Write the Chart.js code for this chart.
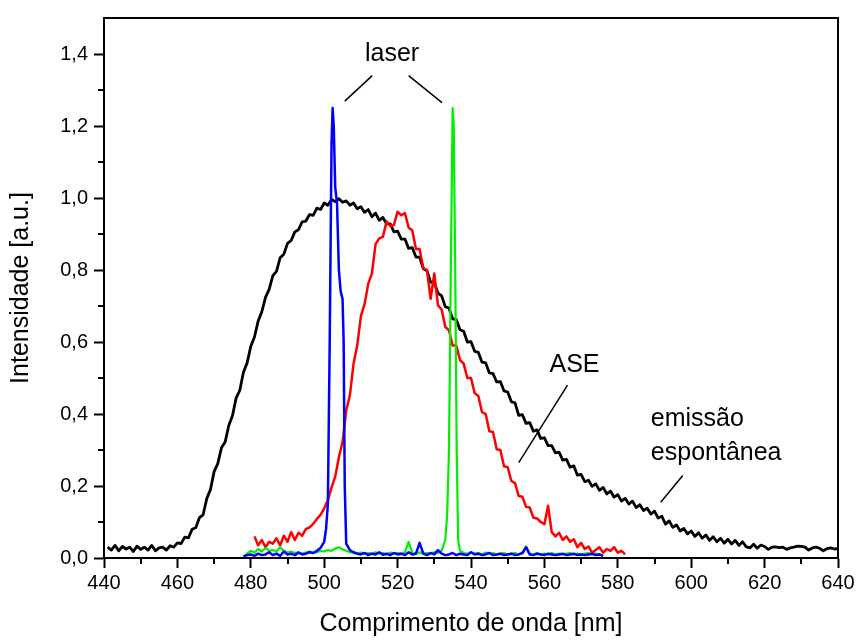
<!DOCTYPE html>
<html>
<head>
<meta charset="utf-8">
<script src="https://cdn.jsdelivr.net/npm/chart.js@4"></script>
<style>
  html, body { margin: 0; padding: 0; background: #fff; }
  #wrap { width: 859px; height: 641px; }
</style>
</head>
<body>
<div id="wrap"><canvas id="chart" width="859" height="641"></canvas></div>
<script>
// Eixos
const xTicks = [440, 460, 480, 500, 520, 540, 560, 580, 600, 620, 640];
const yTicks = [0, 0.2, 0.4, 0.6, 0.8, 1.0, 1.2, 1.4];
const yTickLabels = ['0,0', '0,2', '0,4', '0,6', '0,8', '1,0', '1,2', '1,4'];

// Emissão espontânea (preto), 441..640 nm, passo 1 nm
const spontStart = 441;
const spontValues = [
  0.030, 0.022, 0.035, 0.020, 0.032, 0.025, 0.030, 0.018, 0.033, 0.024,
  0.030, 0.022, 0.035, 0.020, 0.028, 0.030, 0.022, 0.034, 0.030, 0.042,
  0.040, 0.058, 0.056, 0.080, 0.084, 0.112, 0.120, 0.165, 0.190, 0.240,
  0.262, 0.306, 0.322, 0.368, 0.395, 0.444, 0.466, 0.516, 0.542, 0.588,
  0.614, 0.658, 0.684, 0.724, 0.746, 0.784, 0.796, 0.834, 0.844, 0.874,
  0.882, 0.906, 0.912, 0.934, 0.936, 0.954, 0.952, 0.972, 0.968, 0.986,
  0.980, 0.996, 0.990, 0.998, 0.988, 0.992, 0.980, 0.986, 0.970, 0.976,
  0.960, 0.968, 0.948, 0.958, 0.938, 0.946, 0.928, 0.928, 0.906, 0.908,
  0.886, 0.886, 0.860, 0.862, 0.836, 0.836, 0.804, 0.798, 0.766, 0.764,
  0.736, 0.728, 0.698, 0.694, 0.664, 0.662, 0.634, 0.630, 0.600, 0.601,
  0.574, 0.571, 0.544, 0.542, 0.514, 0.512, 0.489, 0.490, 0.464, 0.461,
  0.434, 0.431, 0.396, 0.398, 0.374, 0.376, 0.352, 0.356, 0.332, 0.334,
  0.312, 0.312, 0.292, 0.294, 0.272, 0.274, 0.252, 0.256, 0.230, 0.232,
  0.212, 0.216, 0.199, 0.206, 0.188, 0.196, 0.178, 0.186, 0.169, 0.176,
  0.158, 0.166, 0.150, 0.158, 0.140, 0.148, 0.132, 0.138, 0.122, 0.130,
  0.111, 0.116, 0.094, 0.103, 0.085, 0.092, 0.075, 0.082, 0.067, 0.075,
  0.060, 0.070, 0.055, 0.064, 0.049, 0.059, 0.045, 0.055, 0.041, 0.052,
  0.039, 0.049, 0.035, 0.045, 0.031, 0.028, 0.038, 0.027, 0.036, 0.032,
  0.024, 0.030, 0.031, 0.029, 0.030, 0.024, 0.028, 0.030, 0.033, 0.032,
  0.030, 0.022, 0.028, 0.030, 0.027, 0.020, 0.026, 0.028, 0.025, 0.026
];

// ASE (vermelho), 481..582 nm, passo 1 nm
const aseStart = 481;
const aseValues = [
  0.060, 0.035, 0.050, 0.030, 0.045, 0.040, 0.055, 0.035, 0.062, 0.045,
  0.072, 0.050, 0.070, 0.062, 0.080, 0.085, 0.095, 0.108, 0.120, 0.138,
  0.160, 0.196, 0.226, 0.280, 0.322, 0.410, 0.452, 0.540, 0.590, 0.672,
  0.705, 0.762, 0.790, 0.872, 0.888, 0.892, 0.935, 0.922, 0.925, 0.962,
  0.952, 0.958, 0.918, 0.910, 0.858, 0.858, 0.805, 0.800, 0.720, 0.790,
  0.702, 0.690, 0.642, 0.632, 0.590, 0.590, 0.550, 0.540, 0.500, 0.500,
  0.458, 0.450, 0.405, 0.400, 0.352, 0.350, 0.302, 0.300, 0.255, 0.252,
  0.214, 0.208, 0.172, 0.170, 0.142, 0.140, 0.112, 0.110, 0.100, 0.094,
  0.145, 0.072, 0.060, 0.070, 0.050, 0.060, 0.045, 0.052, 0.030, 0.042,
  0.025, 0.032, 0.015, 0.022, 0.030, 0.015, 0.025, 0.020, 0.030, 0.015,
  0.020, 0.010
];

// Laser em 502 nm (azul)
const blueNm = [
  478, 479, 480, 481, 482, 483, 484, 485, 486, 487, 488, 489, 490, 491, 492, 493, 494, 495, 496, 497, 498, 499,
  500, 500.5, 501, 501.5, 502, 502.3, 502.6, 503, 503.5, 504, 504.5, 505, 505.3, 505.6, 506,
  507, 508, 509, 510, 511, 512, 513, 514, 515, 516, 517, 518, 519, 520, 521, 522, 523, 524, 525, 526,
  527, 528, 529, 530, 531, 532, 533, 534, 535, 536, 537, 538, 539, 540, 541, 542, 543, 544, 545, 546,
  547, 548, 549, 550, 551, 552, 553, 554, 555, 556, 557, 558, 559, 560, 561, 562, 563, 564, 565, 566,
  567, 568, 569, 570, 571, 572, 573, 574, 575, 576
];
const blueVal = [
  0.004, 0.008, 0.010, 0.006, 0.012, 0.008, 0.010, 0.016, 0.008, 0.012, 0.006, 0.018, 0.010, 0.012, 0.008, 0.015, 0.010, 0.012, 0.016, 0.014, 0.020, 0.028,
  0.045, 0.080, 0.150, 0.600, 1.150, 1.250, 1.200, 1.030, 0.985, 0.800, 0.740, 0.720, 0.600, 0.200, 0.040,
  0.022, 0.016, 0.012, 0.010, 0.014, 0.008, 0.012, 0.010, 0.016, 0.009, 0.012, 0.008, 0.014, 0.010, 0.012, 0.008, 0.016, 0.010, 0.012, 0.042,
  0.012, 0.008, 0.014, 0.010, 0.022, 0.012, 0.008, 0.010, 0.014, 0.008, 0.012, 0.010, 0.008, 0.016, 0.010, 0.012, 0.008, 0.010, 0.014, 0.008,
  0.010, 0.012, 0.008, 0.010, 0.012, 0.008, 0.010, 0.014, 0.030, 0.010, 0.008, 0.012, 0.010, 0.008, 0.012, 0.010, 0.008, 0.010, 0.012, 0.008,
  0.010, 0.012, 0.008, 0.010, 0.008, 0.010, 0.012, 0.008, 0.010, 0.006
];

// Laser em 535 nm (verde)
const greenNm = [
  478, 479, 480, 481, 482, 483, 484, 485, 486, 487, 488, 489, 490, 491, 492, 493, 494, 495, 496, 497, 498, 499,
  500, 501, 502, 503, 504, 505, 506, 507, 508, 509, 510, 511, 512, 513, 514, 515, 516, 517, 518, 519, 520,
  521, 522, 523, 524, 525, 526, 527, 528, 529, 530, 531, 532, 533,
  533.5, 534, 534.5, 535, 535.3, 535.7, 536.1, 536.5,
  537, 538, 539, 540, 541, 542, 543, 544, 545, 546, 547, 548, 549, 550, 551, 552, 553, 554, 555, 556,
  557, 558, 559, 560, 561, 562, 563, 564, 565, 566, 567, 568, 569, 570, 571, 572, 573, 574, 575, 576
];
const greenVal = [
  0.004, 0.012, 0.020, 0.015, 0.025, 0.018, 0.028, 0.020, 0.022, 0.018, 0.030, 0.020, 0.015, 0.018, 0.014, 0.016, 0.012, 0.015, 0.018, 0.014, 0.016, 0.020,
  0.018, 0.022, 0.020, 0.026, 0.030, 0.024, 0.020, 0.016, 0.014, 0.012, 0.015, 0.012, 0.014, 0.012, 0.016, 0.012, 0.014, 0.010, 0.015, 0.012, 0.014,
  0.012, 0.016, 0.045, 0.014, 0.012, 0.016, 0.012, 0.014, 0.012, 0.016, 0.014, 0.020, 0.050,
  0.120, 0.300, 0.800, 1.250, 1.200, 0.800, 0.300, 0.050,
  0.020, 0.014, 0.012, 0.016, 0.012, 0.014, 0.010, 0.015, 0.012, 0.014, 0.010, 0.012, 0.014, 0.010, 0.012, 0.014, 0.010, 0.012, 0.032, 0.012,
  0.010, 0.014, 0.010, 0.012, 0.010, 0.014, 0.010, 0.012, 0.010, 0.012, 0.014, 0.010, 0.012, 0.010, 0.012, 0.014, 0.010, 0.012, 0.010, 0.006
];

const FONT = "'Liberation Sans', Arial, sans-serif";

function seriesFromStart(start, values) {
  return values.map((v, i) => ({ x: start + i, y: v }));
}
function seriesFromPairs(xs, ys) {
  return xs.map((x, i) => ({ x: x, y: ys[i] }));
}

// Anotações em coordenadas de dados
const notes = [
  { text: 'laser', x: 518.5, y: 1.40, align: 'center' },
  { text: 'ASE', x: 568.2, y: 0.535, align: 'center' },
  { text: 'emissão', x: 589.0, y: 0.385, align: 'left' },
  { text: 'espontânea', x: 589.0, y: 0.292, align: 'left' }
];
const leaders = [
  [505.6, 1.269, 513.1, 1.340],
  [523.0, 1.340, 532.1, 1.265],
  [566.3, 0.480, 553.0, 0.265],
  [597.7, 0.229, 591.7, 0.155]
];

const framePlugin = {
  id: 'frame',
  afterDraw(chart) {
    const ctx = chart.ctx;
    const a = chart.chartArea;
    const xs = chart.scales.x;
    const ys = chart.scales.y;
    ctx.save();
    ctx.strokeStyle = '#000';
    ctx.lineWidth = 2;
    // topo e direita
    ctx.beginPath();
    ctx.moveTo(a.left, a.top);
    ctx.lineTo(a.right, a.top);
    ctx.lineTo(a.right, a.bottom);
    ctx.stroke();
    // ticks menores
    ctx.beginPath();
    for (let i = 0; i < xTicks.length - 1; i++) {
      const px = Math.round(xs.getPixelForValue((xTicks[i] + xTicks[i + 1]) / 2));
      ctx.moveTo(px, a.bottom);
      ctx.lineTo(px, a.bottom + 6);
    }
    for (let i = 0; i < yTicks.length - 1; i++) {
      const py = Math.round(ys.getPixelForValue((yTicks[i] + yTicks[i + 1]) / 2));
      ctx.moveTo(a.left, py);
      ctx.lineTo(a.left - 6, py);
    }
    ctx.stroke();

    // linhas das anotações
    ctx.lineWidth = 1.5;
    ctx.beginPath();
    leaders.forEach(l => {
      ctx.moveTo(xs.getPixelForValue(l[0]), ys.getPixelForValue(l[1]));
      ctx.lineTo(xs.getPixelForValue(l[2]), ys.getPixelForValue(l[3]));
    });
    ctx.stroke();

    ctx.fillStyle = '#000';
    ctx.font = '25px ' + FONT;
    ctx.textBaseline = 'middle';
    notes.forEach(n => {
      ctx.textAlign = n.align;
      ctx.fillText(n.text, xs.getPixelForValue(n.x), ys.getPixelForValue(n.y));
    });
    ctx.restore();
  }
};

new Chart(document.getElementById('chart'), {
  type: 'line',
  data: {
    datasets: [
      {
        label: 'laser 502 nm',
        data: seriesFromPairs(blueNm, blueVal),
        borderColor: '#0000ff',
        borderWidth: 2.5,
        order: 1
      },
      {
        label: 'laser 535 nm',
        data: seriesFromPairs(greenNm, greenVal),
        borderColor: '#00ee00',
        borderWidth: 2.2,
        order: 2
      },
      {
        label: 'ASE',
        data: seriesFromStart(aseStart, aseValues),
        borderColor: '#ff0000',
        borderWidth: 2.5,
        order: 3
      },
      {
        label: 'emissão espontânea',
        data: seriesFromStart(spontStart, spontValues),
        borderColor: '#000000',
        borderWidth: 2.8,
        order: 4
      }
    ]
  },
  options: {
    responsive: false,
    animation: false,
    elements: {
      point: { radius: 0 },
      line: { tension: 0, fill: false, borderJoinStyle: 'round' }
    },
    layout: { padding: { top: 12, right: 21, left: 0, bottom: 0 } },
    plugins: {
      legend: { display: false },
      tooltip: { enabled: false }
    },
    scales: {
      x: {
        type: 'linear',
        min: 440,
        max: 640,
        afterBuildTicks: s => { s.ticks = xTicks.map(v => ({ value: v })); },
        afterFit: s => { s.height = 83; },
        ticks: {
          color: '#000',
          font: { family: FONT, size: 20 },
          padding: 3,
          maxRotation: 0,
          callback: v => String(v)
        },
        grid: { drawOnChartArea: false, tickLength: 10, tickWidth: 2, tickColor: '#000' },
        border: { color: '#000', width: 2 },
        title: {
          display: true,
          text: 'Comprimento de onda [nm]',
          color: '#000',
          font: { family: FONT, size: 25 },
          padding: { top: 0, bottom: 2 }
        }
      },
      y: {
        type: 'linear',
        min: 0,
        max: 1.5,
        afterBuildTicks: s => { s.ticks = yTicks.map(v => ({ value: v })); },
        afterFit: s => { s.width = 104; },
        ticks: {
          color: '#000',
          font: { family: FONT, size: 20 },
          padding: 6,
          callback: (v, i) => yTickLabels[i]
        },
        grid: { drawOnChartArea: false, tickLength: 10, tickWidth: 2, tickColor: '#000' },
        border: { color: '#000', width: 2 },
        title: {
          display: true,
          text: 'Intensidade [a.u.]',
          color: '#000',
          font: { family: FONT, size: 25 },
          padding: { top: 6, bottom: 0 }
        }
      }
    }
  },
  plugins: [framePlugin]
});
</script>
</body>
</html>
